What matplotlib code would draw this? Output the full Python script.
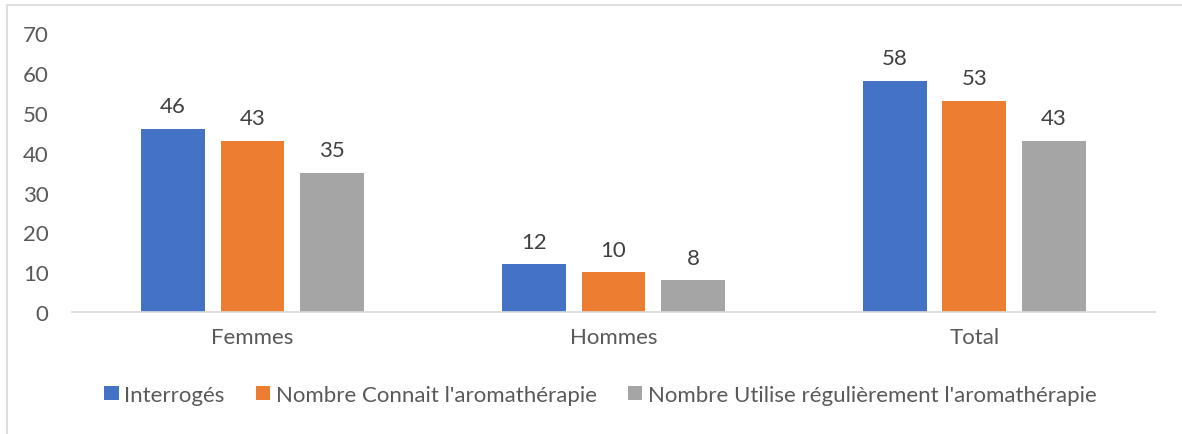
import matplotlib.pyplot as plt
import numpy as np
from matplotlib.patches import Rectangle

categories = ['Femmes', 'Hommes', 'Total']
interroges = [46, 12, 58]
connait = [43, 10, 53]
utilise = [35, 8, 43]
series_names = ['Interrogés', "Nombre Connait l'aromathérapie",
                "Nombre Utilise régulièrement l'aromathérapie"]
colors = ['#4472C4', '#ED7D31', '#A5A5A5']

plt.rcParams['font.family'] = ['Lato', 'DejaVu Sans']

fig = plt.figure(figsize=(11.82, 4.35), dpi=100)
ax = fig.add_axes([0.061, 0.280, 0.916, 0.642])

x = np.arange(len(categories))
width = 0.177
step = 0.221
for i, (vals, name, col) in enumerate(zip([interroges, connait, utilise], series_names, colors)):
    bars = ax.bar(x + (i - 1) * step, vals, width, color=col, label=name)
    for b, v in zip(bars, vals):
        ax.annotate(str(v), (b.get_x() + b.get_width() / 2, v), xytext=(0, 12),
                    textcoords='offset points', ha='center', va='baseline',
                    fontsize=16, color='#404040')

ax.set_xlim(-0.5, 2.5)
ax.set_ylim(0, 70)
ax.set_yticks(range(0, 71, 10))
ax.set_xticks(x)
ax.set_xticklabels(categories)
ax.tick_params(axis='both', length=0, labelsize=16, labelcolor='#595959')
ax.tick_params(axis='x', pad=11)
ax.tick_params(axis='y', pad=17)
for s in ['top', 'right', 'left']:
    ax.spines[s].set_visible(False)
ax.spines['bottom'].set_color('#d9d9d9')
ax.spines['bottom'].set_linewidth(1.2)

fig.legend(loc='center', bbox_to_anchor=(0.508, 0.09), ncol=3, frameon=False,
           fontsize=16, labelcolor='#595959', handlelength=0.65, handleheight=0.65,
           handletextpad=0.25, columnspacing=1.4)

# chart frame
fig.patches.append(Rectangle((7 / 1182, -0.05), 1.2, 1 - 6 / 435 + 0.05, transform=fig.transFigure,
                             fill=False, edgecolor='#d9d9d9', linewidth=1.2))

fig.savefig('out.png', dpi=100)
